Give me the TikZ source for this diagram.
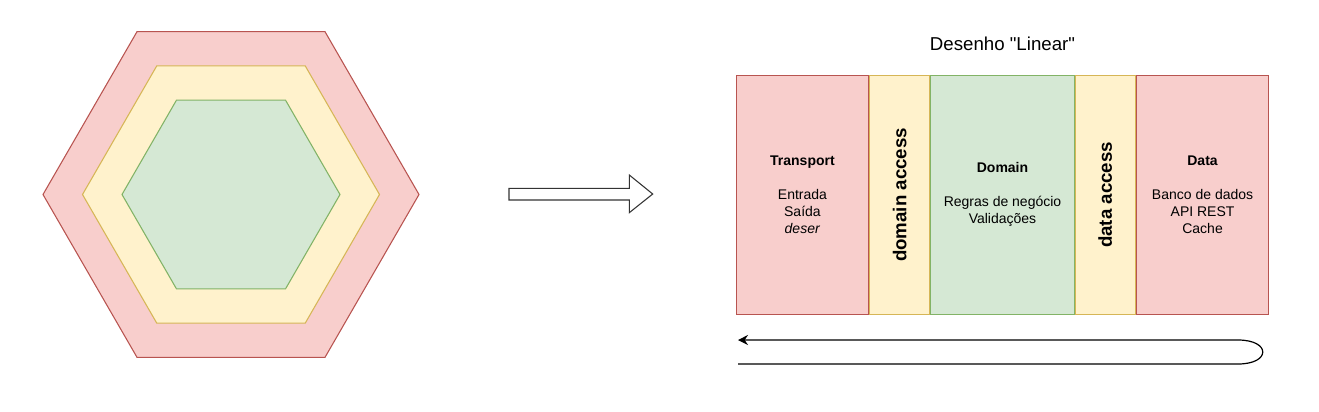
\documentclass[tikz,border=0pt]{standalone}
\usepackage{fontspec}
\setmainfont{Liberation Sans}[Ligatures=TeXOff]
\usetikzlibrary{positioning,shapes.geometric,arrows.meta}
\definecolor{redFill}{HTML}{F8CECC}
\definecolor{redLine}{HTML}{B85450}
\definecolor{yellowFill}{HTML}{FFF2CC}
\definecolor{yellowLine}{HTML}{D6B656}
\definecolor{greenFill}{HTML}{D5E8D4}
\definecolor{greenLine}{HTML}{82B366}
\newcommand{\boxfont}{\fontsize{10.5}{12.75}\selectfont}
\newcommand{\bigfont}{\fontsize{14}{17}\selectfont}
\tikzset{hexRed/.style={regular polygon,regular polygon sides=6,inner sep=0pt,draw=redLine,fill=redFill,line width=0.8pt}}
\tikzset{hexYellow/.style={regular polygon,regular polygon sides=6,inner sep=0pt,draw=yellowLine,fill=yellowFill,line width=0.8pt}}
\tikzset{hexGreen/.style={regular polygon,regular polygon sides=6,inner sep=0pt,draw=greenLine,fill=greenFill,line width=0.8pt}}
\tikzset{layer/.style={rectangle,inner sep=0pt,line width=0.8pt,minimum height=179.8pt,align=center,font=\boxfont}}
\tikzset{outerLayer/.style={layer,draw=redLine,fill=redFill,minimum width=99.4pt}}
\tikzset{accessLayer/.style={layer,draw=yellowLine,fill=yellowFill,minimum width=44.9pt}}
\tikzset{coreLayer/.style={layer,draw=greenLine,fill=greenFill,minimum width=107.7pt}}
\tikzset{accessText/.style={rotate=90,font=\bigfont\bfseries,inner sep=0pt}}
\tikzset{blockArrow/.style={draw=black!80,fill=white,line width=0.8pt}}
\tikzset{returnArrow/.style={-{Stealth[length=7.5pt,width=7.5pt,inset=2.5pt]},line width=0.9pt}}

\begin{document}
\begin{tikzpicture}[x=0.75pt,y=-0.75pt]
\useasboundingbox (0,0) rectangle (1319,411);
% hexagon
\node (hexOuter) [hexRed, minimum size=282pt] at (231,194.5) {};
\node (hexMiddle) [hexYellow, minimum size=222.75pt] at (231,194.5) {};
\node (hexInner) [hexGreen, minimum size=163.5pt] at (231,194.5) {};
% arrow
\draw[blockArrow] (509,188.3) -- (629.3,188.3) -- (629.3,175) -- (652.7,194) -- (629.3,212.7) -- (629.3,200) -- (509,200) -- cycle;
% linear layers
\begin{scope}[node distance=0pt]
	\node (dom) [coreLayer] at (1002.5,194.9) {\textbf{Domain}\\[12.75pt]Regras de negócio\\Validações};
	\node (domAcc) [accessLayer, left =of dom] {};
	\node (trans) [outerLayer, left =of domAcc] {\textbf{Transport}\\[12.75pt]Entrada\\Saída\\\textit{deser}};
	\node (dataAcc) [accessLayer, right =of dom] {};
	\node (data) [outerLayer, right =of dataAcc] {\textbf{Data}\\[12.75pt]Banco de dados\\API REST\\Cache};
	\node (domAccText) [accessText] at (domAcc) {domain access};
	\node (dataAccText) [accessText] at (dataAcc) {data access};
	\node (title) [above =18pt of dom, inner sep=0pt, font=\bigfont] {Desenho "Linear"};
\end{scope}
% return path
\coordinate (retStart) at (738,364);
\coordinate (turnLow) at (1238,364);
\coordinate (turnHigh) at (1238,340);
\coordinate (retEnd) at (738,340);
\draw[returnArrow] (retStart) -- (turnLow) .. controls (1271,364) and (1271,340) .. (turnHigh) -- (retEnd);
\end{tikzpicture}
\end{document}
